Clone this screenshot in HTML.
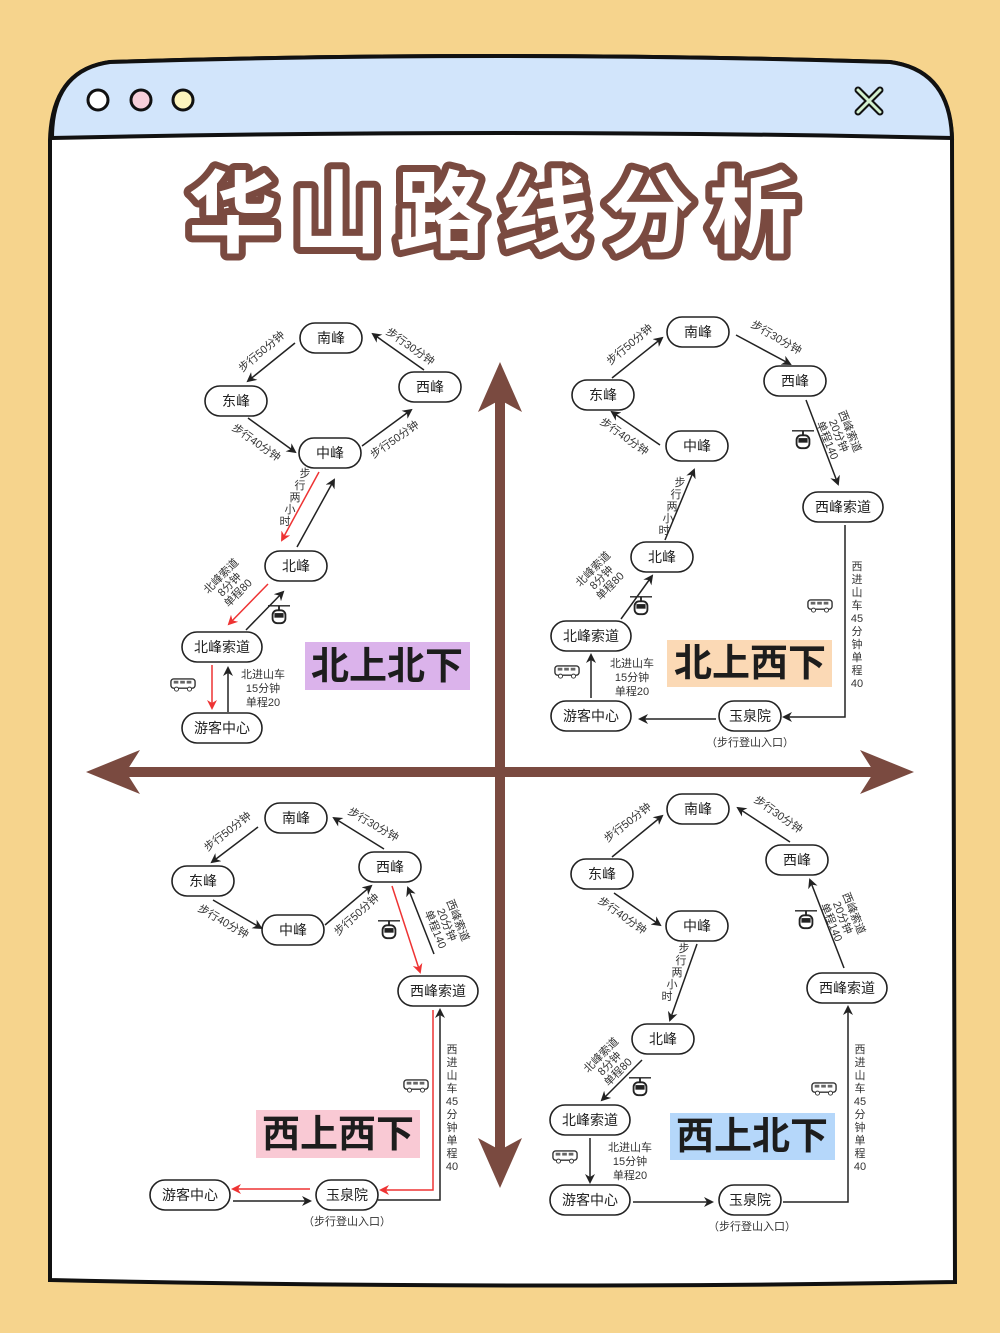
<!DOCTYPE html>
<html><head><meta charset="utf-8"><style>
html,body{margin:0;padding:0;background:#f6d48d;}
svg{display:block;font-family:"Liberation Sans","Noto Sans CJK SC",sans-serif;}
.n rect{fill:#fff;stroke:#222;stroke-width:1.6}
.n text,.t{font-size:14px;fill:#222;text-anchor:middle;dominant-baseline:central}
.l{font-size:11px;fill:#333;text-anchor:middle;dominant-baseline:central}
.k{stroke:#222;stroke-width:1.5;fill:none;marker-end:url(#ak)}
.r{stroke:#e33;stroke-width:1.5;fill:none;marker-end:url(#ar)}
.big{font-size:38px;font-weight:bold;fill:#1d1d1d;text-anchor:middle;dominant-baseline:central}
</style></head><body>
<svg width="1000" height="1333" viewBox="0 0 1000 1333" xmlns="http://www.w3.org/2000/svg">
<defs>
<marker id="ak" markerWidth="10" markerHeight="10" refX="8" refY="5" orient="auto" markerUnits="userSpaceOnUse"><path d="M0,0 L10,5 L0,10 L3,5z" fill="#222"/></marker>
<marker id="ar" markerWidth="10" markerHeight="10" refX="8" refY="5" orient="auto" markerUnits="userSpaceOnUse"><path d="M0,0 L10,5 L0,10 L3,5z" fill="#e33"/></marker>
<symbol id="car" viewBox="0 0 24 24"><line x1="0" y1="3" x2="24" y2="3" stroke="#222" stroke-width="1.5"/><line x1="12" y1="3" x2="12" y2="8" stroke="#222" stroke-width="2"/><rect x="5" y="8" width="14" height="14" rx="5" fill="#fff" stroke="#222" stroke-width="2"/><rect x="7" y="11" width="10" height="5" fill="#222"/></symbol>
<symbol id="bus" viewBox="0 0 28 16"><rect x="1" y="2" width="26" height="10" rx="3" fill="#fff" stroke="#333" stroke-width="1.5"/><rect x="4" y="4" width="5" height="3" fill="#666"/><rect x="11" y="4" width="5" height="3" fill="#666"/><rect x="18" y="4" width="5" height="3" fill="#666"/><circle cx="7" cy="13" r="2.2" fill="#fff" stroke="#333"/><circle cx="21" cy="13" r="2.2" fill="#fff" stroke="#333"/></symbol>
</defs>
<rect width="1000" height="1333" fill="#f6d48d"/>
<!-- window -->
<path d="M50,1280 L50,140 Q52,70 110,62 Q500,50 890,62 Q950,70 952,140 L955,1282 Q500,1290 50,1280Z" fill="#fff" stroke="#111" stroke-width="4"/>
<path d="M52,138 Q52,70 110,62 Q500,50 890,62 Q950,70 952,138 Q500,128 52,138Z" fill="#d2e5fb" stroke="#111" stroke-width="4"/>
<circle cx="98" cy="100" r="10" fill="#fff" stroke="#111" stroke-width="3"/>
<circle cx="141" cy="100" r="10" fill="#f7cfd9" stroke="#111" stroke-width="3"/>
<circle cx="183" cy="100" r="10" fill="#fdf4bd" stroke="#111" stroke-width="3"/>
<g stroke="#111" stroke-width="7" stroke-linecap="round"><line x1="858" y1="90" x2="880" y2="112"/><line x1="880" y1="90" x2="858" y2="112"/></g>
<g stroke="#d3f0cf" stroke-width="3" stroke-linecap="round"><line x1="858" y1="90" x2="880" y2="112"/><line x1="880" y1="90" x2="858" y2="112"/></g>
<text x="500" y="215" text-anchor="middle" dominant-baseline="central" font-size="90" font-weight="bold" letter-spacing="14" fill="#fff" stroke="#7a4a40" stroke-width="14" stroke-linejoin="round" paint-order="stroke">华山路线分析</text>
<!-- axes -->
<g fill="#7a4a40">
<rect x="495" y="395" width="10" height="760"/>
<path d="M500,362 L522,412 L500,400 L478,412Z"/>
<path d="M500,1188 L522,1138 L500,1150 L478,1138Z"/>
<rect x="115" y="767" width="770" height="10"/>
<path d="M86,772 L140,750 L126,772 L140,794Z"/>
<path d="M914,772 L860,750 L874,772 L860,794Z"/>
</g>
<!-- label boxes -->
<rect x="305" y="642" width="165" height="48" fill="#dbb3eb"/><text class="big" x="387" y="667">北上北下</text>
<rect x="667" y="640" width="165" height="47" fill="#fbd9b5"/><text class="big" x="750" y="664">北上西下</text>
<rect x="256" y="1110" width="164" height="48" fill="#f9c9d4"/><text class="big" x="338" y="1135">西上西下</text>
<rect x="670" y="1113" width="165" height="47" fill="#b5d7fa"/><text class="big" x="752" y="1137">西上北下</text>

<!-- Q1 -->
<g class="n">
<rect x="300" y="323" width="62" height="30" rx="15"/><text x="331" y="338">南峰</text>
<rect x="399" y="372" width="62" height="30" rx="15"/><text x="430" y="387">西峰</text>
<rect x="205" y="386" width="62" height="30" rx="15"/><text x="236" y="401">东峰</text>
<rect x="299" y="438" width="62" height="30" rx="15"/><text x="330" y="453">中峰</text>
<rect x="265" y="551" width="62" height="30" rx="15"/><text x="296" y="566">北峰</text>
<rect x="182" y="632" width="80" height="30" rx="15"/><text x="222" y="647">北峰索道</text>
<rect x="182" y="713" width="80" height="30" rx="15"/><text x="222" y="728">游客中心</text>
</g>
<line class="k" x1="295" y1="343" x2="248" y2="381"/>
<line class="k" x1="424" y1="370" x2="373" y2="334"/>
<line class="k" x1="248" y1="418" x2="295" y2="452"/>
<line class="k" x1="362" y1="446" x2="411" y2="410"/>
<line class="r" x1="319" y1="472" x2="282" y2="540"/>
<line class="k" x1="297" y1="547" x2="334" y2="480"/>
<line class="r" x1="268" y1="584" x2="229" y2="624"/>
<line class="k" x1="246" y1="630" x2="283" y2="592"/>
<line class="r" x1="212" y1="665" x2="212" y2="708"/>
<line class="k" x1="228" y1="712" x2="228" y2="668"/>
<text class="l" transform="translate(262,352) rotate(-40)">步行50分钟</text>
<text class="l" transform="translate(410,347) rotate(35)">步行30分钟</text>
<text class="l" transform="translate(256,443) rotate(35)">步行40分钟</text>
<text class="l" transform="translate(395,440) rotate(-35)">步行50分钟</text>
<text class="l" font-size="12"><tspan x="305" y="474">步</tspan><tspan x="300" y="486">行</tspan><tspan x="295" y="498">两</tspan><tspan x="290" y="510">小</tspan><tspan x="285" y="522">时</tspan></text>
<text class="l" transform="translate(230,585) rotate(-45)"><tspan x="0" dy="-12">北峰索道</tspan><tspan x="0" dy="12">8分钟</tspan><tspan x="0" dy="12">单程80</tspan></text>
<text class="l" x="263" y="675" font-size="12"><tspan x="263">北进山车</tspan><tspan x="263" dy="14">15分钟</tspan><tspan x="263" dy="14">单程20</tspan></text>
<use href="#car" x="268" y="603" width="22" height="22"/>
<use href="#bus" x="170" y="677" width="26" height="15"/>

<!-- Q2 -->
<g class="n">
<rect x="667" y="317" width="62" height="30" rx="15"/><text x="698" y="332">南峰</text>
<rect x="764" y="366" width="62" height="30" rx="15"/><text x="795" y="381">西峰</text>
<rect x="572" y="380" width="62" height="30" rx="15"/><text x="603" y="395">东峰</text>
<rect x="666" y="431" width="62" height="30" rx="15"/><text x="697" y="446">中峰</text>
<rect x="631" y="542" width="62" height="30" rx="15"/><text x="662" y="557">北峰</text>
<rect x="551" y="621" width="80" height="30" rx="15"/><text x="591" y="636">北峰索道</text>
<rect x="551" y="701" width="80" height="30" rx="15"/><text x="591" y="716">游客中心</text>
<rect x="719" y="701" width="62" height="30" rx="15"/><text x="750" y="716">玉泉院</text>
<rect x="803" y="492" width="80" height="30" rx="15"/><text x="843" y="507">西峰索道</text>
</g>
<line class="k" x1="612" y1="378" x2="662" y2="338"/>
<line class="k" x1="736" y1="335" x2="790" y2="364"/>
<line class="k" x1="806" y1="400" x2="838" y2="484"/>
<path class="k" d="M845,525 L845,717 L784,717"/>
<line class="k" x1="716" y1="719" x2="640" y2="719"/>
<line class="k" x1="591" y1="698" x2="591" y2="655"/>
<line class="k" x1="621" y1="619" x2="652" y2="576"/>
<line class="k" x1="665" y1="540" x2="694" y2="470"/>
<line class="k" x1="660" y1="445" x2="612" y2="412"/>
<text class="l" transform="translate(630,345) rotate(-40)">步行50分钟</text>
<text class="l" transform="translate(776,338) rotate(30)">步行30分钟</text>
<text class="l" transform="translate(624,437) rotate(35)">步行40分钟</text>
<text class="l" font-size="12"><tspan x="680" y="483">步</tspan><tspan x="676" y="495">行</tspan><tspan x="672" y="507">两</tspan><tspan x="668" y="519">小</tspan><tspan x="664" y="531">时</tspan></text>
<text class="l" transform="translate(602,578) rotate(-45)"><tspan x="0" dy="-12">北峰索道</tspan><tspan x="0" dy="12">8分钟</tspan><tspan x="0" dy="12">单程80</tspan></text>
<text class="l" transform="translate(838,436) rotate(68)"><tspan x="0" dy="-12">西峰索道</tspan><tspan x="0" dy="12">20分钟</tspan><tspan x="0" dy="12">单程140</tspan></text>
<text class="l" x="632" y="664"><tspan x="632">北进山车</tspan><tspan x="632" dy="14">15分钟</tspan><tspan x="632" dy="14">单程20</tspan></text>
<text class="l" x="857" y="567"><tspan x="857">西</tspan><tspan x="857" dy="13">进</tspan><tspan x="857" dy="13">山</tspan><tspan x="857" dy="13">车</tspan><tspan x="857" dy="13">45</tspan><tspan x="857" dy="13">分</tspan><tspan x="857" dy="13">钟</tspan><tspan x="857" dy="13">单</tspan><tspan x="857" dy="13">程</tspan><tspan x="857" dy="13">40</tspan></text>
<text class="l" x="750" y="743">（步行登山入口）</text>
<use href="#car" x="792" y="428" width="22" height="22"/>
<use href="#car" x="630" y="594" width="22" height="22"/>
<use href="#bus" x="807" y="598" width="26" height="15"/>
<use href="#bus" x="554" y="664" width="26" height="15"/>

<!-- Q3 -->
<g class="n">
<rect x="265" y="803" width="62" height="30" rx="15"/><text x="296" y="818">南峰</text>
<rect x="359" y="852" width="62" height="30" rx="15"/><text x="390" y="867">西峰</text>
<rect x="172" y="866" width="62" height="30" rx="15"/><text x="203" y="881">东峰</text>
<rect x="262" y="915" width="62" height="30" rx="15"/><text x="293" y="930">中峰</text>
<rect x="398" y="976" width="80" height="30" rx="15"/><text x="438" y="991">西峰索道</text>
<rect x="316" y="1180" width="62" height="30" rx="15"/><text x="347" y="1195">玉泉院</text>
<rect x="150" y="1180" width="80" height="30" rx="15"/><text x="190" y="1195">游客中心</text>
</g>
<line class="k" x1="258" y1="827" x2="212" y2="862"/>
<line class="k" x1="384" y1="849" x2="334" y2="818"/>
<line class="k" x1="213" y1="900" x2="261" y2="928"/>
<line class="k" x1="325" y1="925" x2="371" y2="886"/>
<line class="r" x1="392" y1="886" x2="420" y2="972"/>
<line class="k" x1="434" y1="954" x2="408" y2="888"/>
<path class="r" d="M433,1010 L433,1190 L381,1190"/>
<path class="k" d="M378,1200 L440,1200 L440,1010"/>
<line class="r" x1="310" y1="1189" x2="233" y2="1189"/>
<line class="k" x1="233" y1="1201" x2="310" y2="1201"/>
<text class="l" transform="translate(228,832) rotate(-38)">步行50分钟</text>
<text class="l" transform="translate(373,825) rotate(30)">步行30分钟</text>
<text class="l" transform="translate(223,922) rotate(30)">步行40分钟</text>
<text class="l" transform="translate(357,915) rotate(-42)">步行50分钟</text>
<text class="l" transform="translate(446,925) rotate(68)"><tspan x="0" dy="-12">西峰索道</tspan><tspan x="0" dy="12">20分钟</tspan><tspan x="0" dy="12">单程140</tspan></text>
<text class="l" x="452" y="1050"><tspan x="452">西</tspan><tspan x="452" dy="13">进</tspan><tspan x="452" dy="13">山</tspan><tspan x="452" dy="13">车</tspan><tspan x="452" dy="13">45</tspan><tspan x="452" dy="13">分</tspan><tspan x="452" dy="13">钟</tspan><tspan x="452" dy="13">单</tspan><tspan x="452" dy="13">程</tspan><tspan x="452" dy="13">40</tspan></text>
<text class="l" x="347" y="1222">（步行登山入口）</text>
<use href="#car" x="378" y="918" width="22" height="22"/>
<use href="#bus" x="403" y="1078" width="26" height="15"/>

<!-- Q4 -->
<g class="n">
<rect x="667" y="794" width="62" height="30" rx="15"/><text x="698" y="809">南峰</text>
<rect x="766" y="845" width="62" height="30" rx="15"/><text x="797" y="860">西峰</text>
<rect x="571" y="859" width="62" height="30" rx="15"/><text x="602" y="874">东峰</text>
<rect x="666" y="911" width="62" height="30" rx="15"/><text x="697" y="926">中峰</text>
<rect x="807" y="973" width="80" height="30" rx="15"/><text x="847" y="988">西峰索道</text>
<rect x="632" y="1024" width="62" height="30" rx="15"/><text x="663" y="1039">北峰</text>
<rect x="550" y="1105" width="80" height="30" rx="15"/><text x="590" y="1120">北峰索道</text>
<rect x="550" y="1185" width="80" height="30" rx="15"/><text x="590" y="1200">游客中心</text>
<rect x="719" y="1185" width="62" height="30" rx="15"/><text x="750" y="1200">玉泉院</text>
</g>
<line class="k" x1="612" y1="857" x2="662" y2="816"/>
<line class="k" x1="790" y1="842" x2="738" y2="808"/>
<line class="k" x1="614" y1="893" x2="660" y2="925"/>
<line class="k" x1="697" y1="944" x2="670" y2="1020"/>
<line class="k" x1="642" y1="1060" x2="602" y2="1100"/>
<line class="k" x1="590" y1="1138" x2="590" y2="1182"/>
<line class="k" x1="633" y1="1202" x2="712" y2="1202"/>
<path class="k" d="M783,1202 L848,1202 L848,1007"/>
<line class="k" x1="844" y1="968" x2="810" y2="880"/>
<text class="l" transform="translate(628,823) rotate(-38)">步行50分钟</text>
<text class="l" transform="translate(778,815) rotate(35)">步行30分钟</text>
<text class="l" transform="translate(622,916) rotate(35)">步行40分钟</text>
<text class="l" font-size="12"><tspan x="684" y="949">步</tspan><tspan x="681" y="961">行</tspan><tspan x="677" y="973">两</tspan><tspan x="672" y="985">小</tspan><tspan x="667" y="997">时</tspan></text>
<text class="l" transform="translate(610,1064) rotate(-45)"><tspan x="0" dy="-12">北峰索道</tspan><tspan x="0" dy="12">8分钟</tspan><tspan x="0" dy="12">单程80</tspan></text>
<text class="l" transform="translate(842,918) rotate(68)"><tspan x="0" dy="-12">西峰索道</tspan><tspan x="0" dy="12">20分钟</tspan><tspan x="0" dy="12">单程140</tspan></text>
<text class="l" x="630" y="1148"><tspan x="630">北进山车</tspan><tspan x="630" dy="14">15分钟</tspan><tspan x="630" dy="14">单程20</tspan></text>
<text class="l" x="860" y="1050"><tspan x="860">西</tspan><tspan x="860" dy="13">进</tspan><tspan x="860" dy="13">山</tspan><tspan x="860" dy="13">车</tspan><tspan x="860" dy="13">45</tspan><tspan x="860" dy="13">分</tspan><tspan x="860" dy="13">钟</tspan><tspan x="860" dy="13">单</tspan><tspan x="860" dy="13">程</tspan><tspan x="860" dy="13">40</tspan></text>
<text class="l" x="752" y="1227">（步行登山入口）</text>
<use href="#car" x="795" y="908" width="22" height="22"/>
<use href="#car" x="629" y="1075" width="22" height="22"/>
<use href="#bus" x="811" y="1081" width="26" height="15"/>
<use href="#bus" x="552" y="1149" width="26" height="15"/>
</svg>
</body></html>
